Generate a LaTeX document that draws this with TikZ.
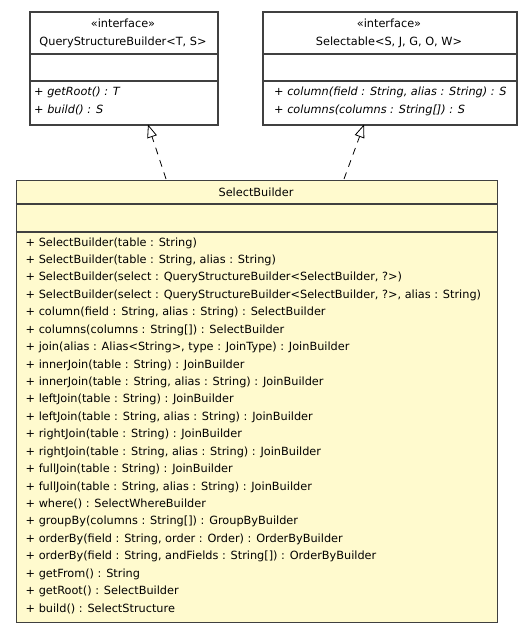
\documentclass[tikz,border=0pt]{standalone}
\usepackage{fontspec}
\setmainfont{DejaVu Sans}
\usetikzlibrary{arrows.meta}
\definecolor{boxline}{RGB}{64,64,64}
\definecolor{sbfill}{RGB}{255,250,206}
\begin{document}
\begin{tikzpicture}[x=1pt,y=-1pt,
  umlbox/.style={draw=boxline,line width=1.6pt,inner sep=0pt,anchor=north west},
  divline/.style={draw=boxline,line width=1.6pt},
  ttl/.style={font=\fontsize{11.3}{13}\selectfont,inner sep=0pt,anchor=center},
  mline/.style={font=\fontsize{11.3}{13}\selectfont,inner sep=0pt,anchor=west},
  realize/.style={draw=black,line width=0.8pt,dash pattern=on 7pt off 6pt,
    -{Triangle[open,length=13pt,width=10pt,line width=0.8pt]}}
]
\useasboundingbox (0,0) rectangle (532,631);
% QueryStructureBuilder
\node[umlbox,minimum width=188pt,minimum height=113pt] (qsb) at (29,11) {};
\draw[divline] (29,54) -- (217,54);
\draw[divline] (29,81) -- (217,81);
\node[ttl] (qsbst) at (123,23.5) {«interface»};
\node[ttl] (qsbt) at (123,42.3) {QueryStructureBuilder<T, S>};
\node[mline] (qm1) at (34,92.2) {\itshape + getRoot() : T};
\node[mline] (qm2) at (34,110.2) {\itshape + build() : S};
% Selectable
\node[umlbox,minimum width=254pt,minimum height=113pt] (sel) at (262,11) {};
\draw[divline] (262,54) -- (516,54);
\draw[divline] (262,81) -- (516,81);
\node[ttl] (selst) at (389,23.5) {«interface»};
\node[ttl] (selt) at (389,42.3) {Selectable<S, J, G, O, W>};
\node[mline] (sm1) at (274,92.2) {\itshape + column(field : String, alias : String) : S};
\node[mline] (sm2) at (274,110.2) {\itshape + columns(columns : String[]) : S};
% SelectBuilder
\node[umlbox,fill=sbfill,minimum width=481pt,minimum height=442pt] (sb) at (15.5,179.5) {};
\draw[divline] (15.5,204) -- (496.5,204);
\draw[divline] (15.5,232) -- (496.5,232);
\node[ttl] (sbt) at (256,191.8) {SelectBuilder};
\foreach \t [count=\i from 0] in {
  {+ SelectBuilder(table : String)},
  {+ SelectBuilder(table : String, alias : String)},
  {+ SelectBuilder(select : QueryStructureBuilder<SelectBuilder, ?>)},
  {+ SelectBuilder(select : QueryStructureBuilder<SelectBuilder, ?>, alias : String)},
  {+ column(field : String, alias : String) : SelectBuilder},
  {+ columns(columns : String[]) : SelectBuilder},
  {+ join(alias : Alias<String>, type : JoinType) : JoinBuilder},
  {+ innerJoin(table : String) : JoinBuilder},
  {+ innerJoin(table : String, alias : String) : JoinBuilder},
  {+ leftJoin(table : String) : JoinBuilder},
  {+ leftJoin(table : String, alias : String) : JoinBuilder},
  {+ rightJoin(table : String) : JoinBuilder},
  {+ rightJoin(table : String, alias : String) : JoinBuilder},
  {+ fullJoin(table : String) : JoinBuilder},
  {+ fullJoin(table : String, alias : String) : JoinBuilder},
  {+ where() : SelectWhereBuilder},
  {+ groupBy(columns : String[]) : GroupByBuilder},
  {+ orderBy(field : String, order : Order) : OrderByBuilder},
  {+ orderBy(field : String, andFields : String[]) : OrderByBuilder},
  {+ getFrom() : String},
  {+ getRoot() : SelectBuilder},
  {+ build() : SelectStructure}}
  \node[mline] (sbm\i) at (25.5,242.9+17.43*\i) {\t};
% realizations
\coordinate (r1s) at (166,179);
\coordinate (r1e) at (148,124.5);
\coordinate (r2s) at (344,179);
\coordinate (r2e) at (364,124.5);
\draw[realize] (r1s) -- (r1e);
\draw[realize] (r2s) -- (r2e);
\end{tikzpicture}
\end{document}
